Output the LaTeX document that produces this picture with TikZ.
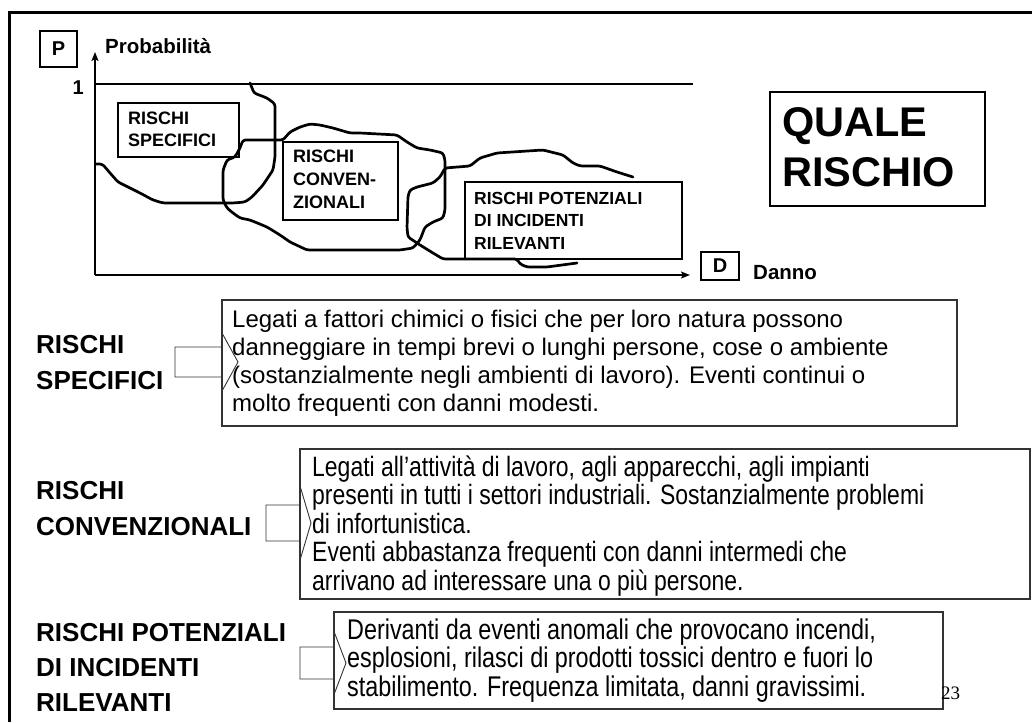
\documentclass[tikz,border=0pt]{standalone}
\usepackage{fontspec}
\setmainfont{Liberation Sans}
\newfontfamily\narrowfont{Liberation Sans}[FakeStretch=0.82]
\newfontfamily\serifnum{Liberation Serif}
\usetikzlibrary{arrows.meta}
\tikzset{
  curve/.style={line width=2.7pt, line join=round, line cap=round, rounded corners=2.5pt},
  axis/.style={line width=2.4pt, -{Stealth[length=9pt,width=7pt,inset=2pt]}},
  gbox/.style={draw, line width=1.1pt, inner sep=0pt},
  tbox/.style={draw=black!80, line width=1.1pt, inner sep=0pt},
  blockarrow/.style={draw=black!80, line width=0.9pt, line join=miter},
  lbl/.style={inner sep=0pt, anchor=base west},
}
\begin{document}
\begin{tikzpicture}[x=1pt,y=-1pt]
\useasboundingbox (0,0) rectangle (1032,722);
% frame
\draw[line width=3pt] (9,722) -- (9,13) -- (1032,13);

% ---------- graph ----------
\coordinate (origin) at (95,275);
\coordinate (ytip) at (95,52);
\coordinate (xtip) at (690,275);
\draw[axis] (origin) -- (ytip);
\draw[axis] (origin) -- (xtip);
\coordinate (oneL) at (95,84);
\coordinate (oneR) at (693,84);
\draw[line width=2.2pt] (oneL) -- (oneR);
\node[inner sep=0pt, anchor=base east, font=\fontsize{20}{24}\selectfont\bfseries] (one) at (84,95) {1};

\node[gbox, minimum width=37pt, minimum height=36pt] (pbox) at (58.5,49) {};
\node[font=\fontsize{20}{24}\selectfont\bfseries, inner sep=0pt] (ptxt) at (pbox.center) {P};
\node[lbl, font=\fontsize{20.5}{24}\selectfont\bfseries] (prob) at (105,54) {Probabilità};

\node[gbox, minimum width=38pt, minimum height=28pt] (dbox) at (720,266) {};
\node[font=\fontsize{20}{24}\selectfont\bfseries, inner sep=0pt] (dtxt) at (dbox.center) {D};
\node[lbl, font=\fontsize{20.5}{24}\selectfont\bfseries] (danno) at (753,279) {Danno};

\node[gbox, minimum width=215pt, minimum height=114pt] (qbox) at (877.5,149) {};
\node[lbl, font=\fontsize{41.5}{50}\selectfont\bfseries] (qtxt) at (782,137)
  {\vtop{\hbox{QUALE}\hbox{RISCHIO}}};

% curves
\draw[curve] (250,83) -- (252,88) -- (254,93) -- (267,98) -- (275,104) -- (275,157)
  -- (273,170) -- (263,185) -- (252,197) -- (245,202) -- (233,203) -- (163,203)
  -- (153,200) -- (140,193) -- (132,189) -- (118,182) -- (110,173) -- (105,167)
  -- (102,164) -- (96,164);
\draw[curve] (243,140) -- (283,140) -- (290,132) -- (300,127) -- (310,124) -- (320,125)
  -- (333,128) -- (350,133) -- (360,133) -- (397,135) -- (407,142) -- (417,148)
  -- (430,150) -- (443,153) -- (445,160) -- (445,210) -- (443,218) -- (433,222)
  -- (425,227) -- (420,240) -- (413,248) -- (400,250) -- (307,250) -- (290,242)
  -- (280,235) -- (267,227) -- (250,220) -- (240,218) -- (233,213) -- (227,208)
  -- (223,200) -- (223,170) -- (227,160) -- (235,157) -- (240,148) -- cycle;
\draw[curve] (633,177) -- (617,172) -- (600,166) -- (580,166) -- (573,163) -- (563,155)
  -- (543,150) -- (497,153) -- (480,158) -- (470,166) -- (445,168)
  -- (440,177) -- (433,183) -- (417,187) -- (410,190) -- (408,196) -- (407,228)
  -- (408,237) -- (420,245) -- (433,253) -- (443,259) -- (517,259) -- (520,264)
  -- (527,267) -- (547,267) -- (577,263);

% graph boxes
\node[gbox, minimum width=121pt, minimum height=54pt] (gb1) at (178.5,130) {};
\node[lbl, font=\fontsize{18}{22}\selectfont\bfseries] (gt1) at (128,125)
  {\vtop{\hbox{RISCHI}\hbox{SPECIFICI}}};
\node[gbox, minimum width=115pt, minimum height=78pt] (gb2) at (340.5,181) {};
\node[lbl, font=\fontsize{18}{23}\selectfont\bfseries] (gt2) at (293,163)
  {\vtop{\hbox{RISCHI}\hbox{CONVEN-}\hbox{ZIONALI}}};
\node[gbox, minimum width=217pt, minimum height=77pt] (gb3) at (573.5,220.5) {};
\node[lbl, font=\fontsize{17.5}{22.5}\selectfont\bfseries] (gt3) at (474,204)
  {\vtop{\hbox{RISCHI POTENZIALI}\hbox{DI INCIDENTI}\hbox{RILEVANTI}}};

% ---------- lower part ----------
% row 1
\node[lbl, font=\fontsize{26}{36}\selectfont\bfseries] (l1) at (36,353)
  {\vtop{\hbox{RISCHI}\hbox{SPECIFICI}}};
\node[tbox, minimum width=735pt, minimum height=126pt] (b1) at (589.5,363) {};
\node[lbl, font=\fontsize{24}{28}\selectfont] (t1) at (232,327)
  {\vtop{\hbox{Legati a fattori chimici o fisici che per loro natura possono}
  \hbox{danneggiare in tempi brevi o lunghi persone, cose o ambiente}
  \hbox{(sostanzialmente negli ambienti di lavoro). Eventi continui o}
  \hbox{molto frequenti con danni modesti.}}};
\draw[blockarrow] (175,347) -- (b1.west |- 0,347) -- (b1.west |- 0,332) -- (238,362)
  -- (b1.west |- 0,392) -- (b1.west |- 0,377) -- (175,377) -- cycle;

% row 2
\node[lbl, font=\fontsize{26}{36}\selectfont\bfseries] (l2) at (36,499)
  {\vtop{\hbox{RISCHI}\hbox{CONVENZIONALI}}};
\node[tbox, minimum width=730pt, minimum height=150pt] (b2) at (665,524) {};
\node[lbl, font=\fontsize{28}{28.5}\selectfont\narrowfont] (t2) at (312,476)
  {\vtop{\hbox{Legati all’attività di lavoro, agli apparecchi, agli impianti}
  \hbox{presenti in tutti i settori industriali. Sostanzialmente problemi}
  \hbox{di infortunistica.}
  \hbox{Eventi abbastanza frequenti con danni intermedi che}
  \hbox{arrivano ad interessare una o più persone.}}};
\draw[blockarrow] (266,505) -- (b2.west |- 0,505) -- (b2.west |- 0,484) -- (311,523)
  -- (b2.west |- 0,562) -- (b2.west |- 0,541) -- (266,541) -- cycle;

% row 3
\node[lbl, font=\fontsize{26}{35}\selectfont\bfseries] (l3) at (36,641)
  {\vtop{\hbox{RISCHI POTENZIALI}\hbox{DI INCIDENTI}\hbox{RILEVANTI}}};
\node[tbox, minimum width=609pt, minimum height=97pt] (b3) at (638.5,660.5) {};
\node[lbl, font=\fontsize{28.5}{28.5}\selectfont\narrowfont] (t3) at (347,639)
  {\vtop{\hbox{Derivanti da eventi anomali che provocano incendi,}
  \hbox{esplosioni, rilasci di prodotti tossici dentro e fuori lo}
  \hbox{stabilimento. Frequenza limitata, danni gravissimi.}}};
\draw[blockarrow] (300,647) -- (b3.west |- 0,647) -- (b3.west |- 0,630) -- (346,663)
  -- (b3.west |- 0,696) -- (b3.west |- 0,679) -- (300,679) -- cycle;

\node[lbl, font=\fontsize{19}{22}\selectfont\serifnum] (pnum) at (941,699) {23};
\end{tikzpicture}
\end{document}
